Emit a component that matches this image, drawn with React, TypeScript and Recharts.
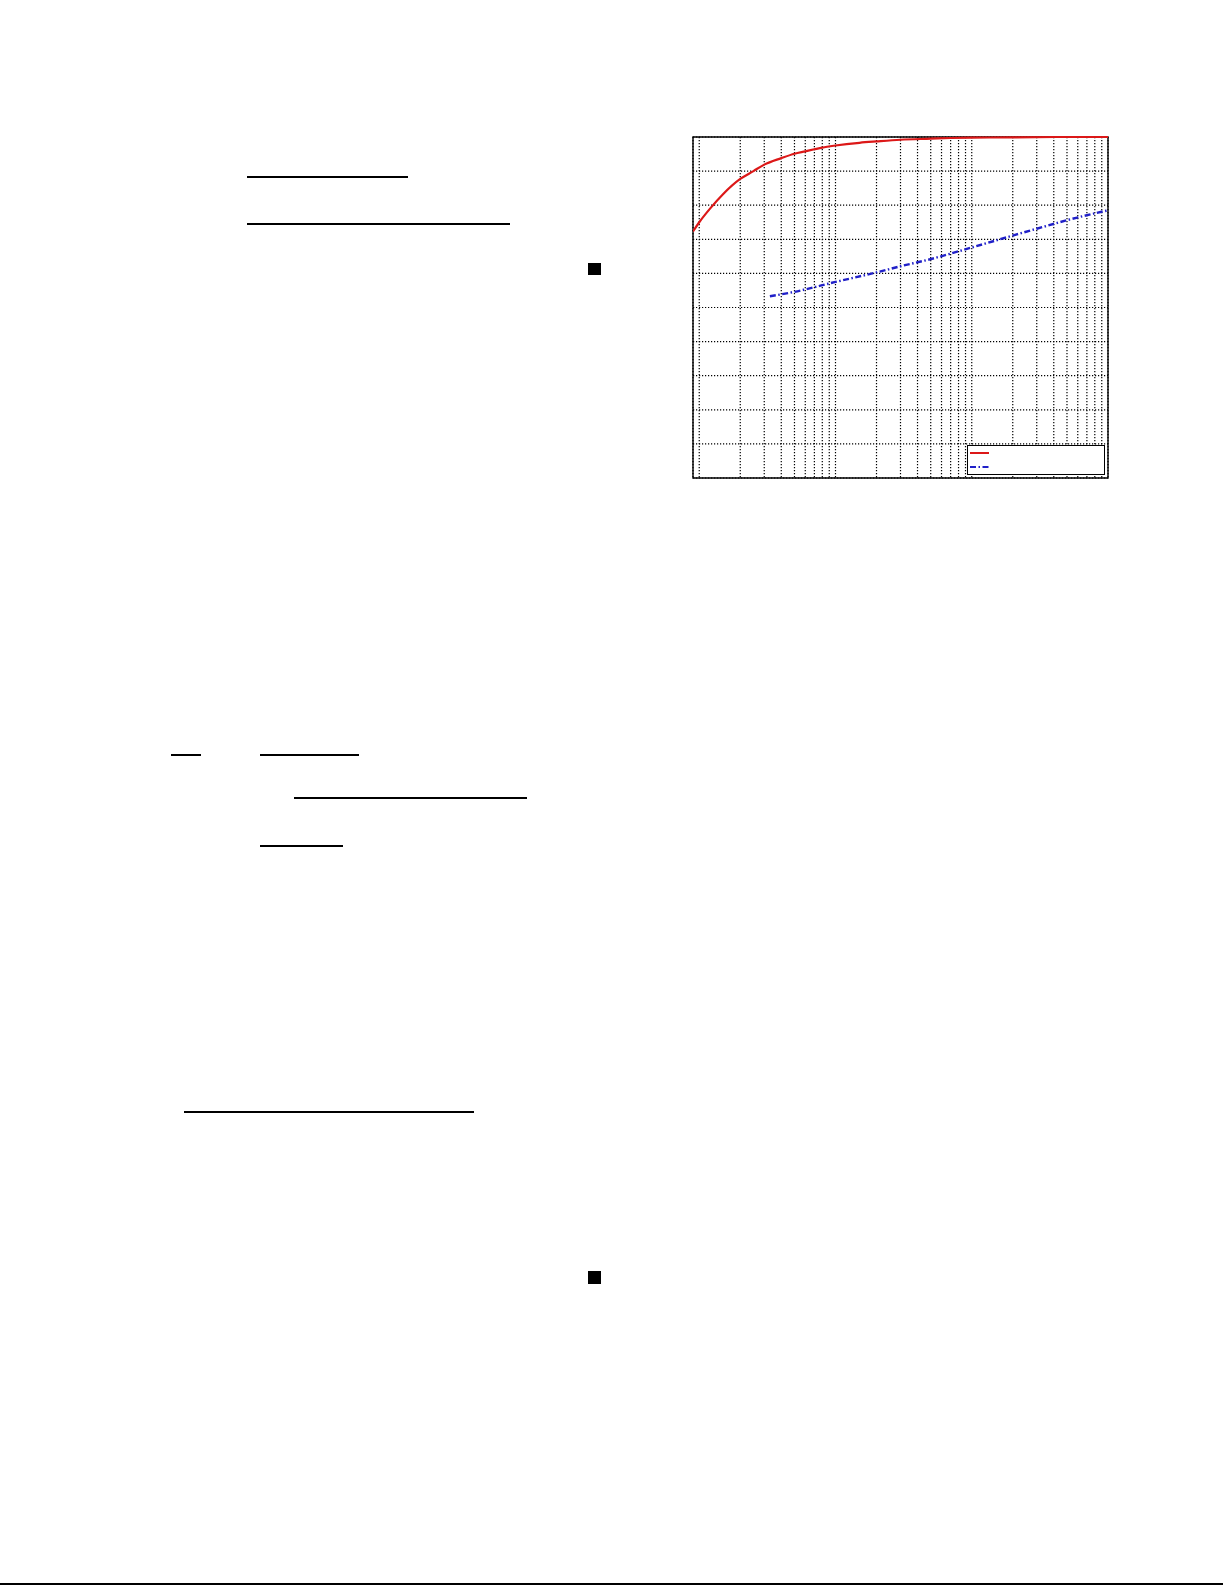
import React from 'react';
import { LineChart, Line, XAxis, YAxis, CartesianGrid, ReferenceArea, Legend } from 'recharts';

// Series 1 (red, solid)
const redX = [0.9, 1, 1.2, 1.5, 2, 2.5, 3, 4, 5, 6, 7, 8, 10, 15, 20, 30, 50, 70, 100, 200, 500, 1000];
const redY = [0.723, 0.75, 0.79, 0.833, 0.877, 0.9, 0.919, 0.938, 0.951, 0.958, 0.964, 0.969, 0.975, 0.983, 0.987, 0.992, 0.995, 0.997, 0.998, 0.999, 1.0, 1.0];

// Series 2 (blue, dash-dot)
const blueX = [3.3, 5, 10, 20, 30, 50, 100, 200, 300, 500, 1000];
const blueY = [0.533, 0.546, 0.575, 0.603, 0.621, 0.642, 0.676, 0.711, 0.731, 0.756, 0.785];

// Axis ticks
const xTicks = [1, 2, 3, 4, 5, 6, 7, 8, 9, 10, 20, 30, 40, 50, 60, 70, 80, 90, 100, 200, 300, 400, 500, 600, 700, 800, 900, 1000];
const yTicks = [0, 0.1, 0.2, 0.3, 0.4, 0.5, 0.6, 0.7, 0.8, 0.9, 1];
const xDomain = [0.9, 1000];
const yDomain = [0, 1];

const redData = redX.map((x, i) => ({ x, y: redY[i] }));
const blueData = blueX.map((x, i) => ({ x, y: blueY[i] }));

const RED = '#dc1818';
const BLUE = '#2020c8';

const LegendBox = (props: any) => {
  const payload = props.payload || [];
  return (
    <div style={{ width: 136, height: 28, border: '1px solid #000', background: '#fff', position: 'relative' }}>
      {payload.map((entry: any, i: number) => (
        <svg key={i} width={20} height={6} style={{ position: 'absolute', left: 2, top: 4 + i * 14 }}>
          <line x1={0} y1={3} x2={19} y2={3} stroke={entry.color}
            strokeWidth={2}
            strokeDasharray={entry.payload?.strokeDasharray} />
        </svg>
      ))}
    </div>
  );
};

const Bar = ({ l, t, w, h = 2 }: { l: number; t: number; w: number; h?: number }) => (
  <div style={{ position: 'absolute', left: l, top: t, width: w, height: h, background: '#000' }} />
);

export default function App() {
  return (
    <div style={{ position: 'absolute', left: 0, top: 0, width: 1225, height: 1585, background: '#fff', overflow: 'hidden' }}>
      <Bar l={247} t={176} w={161} />
      <Bar l={247} t={223} w={263} />
      <Bar l={588} t={263} w={13} h={12} />
      <Bar l={171} t={754} w={30} />
      <Bar l={260} t={754} w={99} />
      <Bar l={294} t={797} w={233} />
      <Bar l={260} t={845} w={83} />
      <Bar l={184} t={1111} w={290} />
      <Bar l={588} t={1271} w={13} h={13} />
      <Bar l={0} t={1583} w={1223} />

      <div style={{ position: 'absolute', left: 691, top: 135 }}>
        <LineChart width={419} height={345} margin={{ top: 2, right: 2, bottom: 2, left: 2 }}>
          <XAxis dataKey="x" type="number" scale="log" domain={xDomain} ticks={xTicks} interval={0} allowDataOverflow hide />
          <YAxis type="number" domain={yDomain} ticks={yTicks} interval={0} hide />
          <CartesianGrid stroke="#000" strokeDasharray="1.2 1.8" strokeWidth={1.2} />
          <Line type="monotone" data={redData} dataKey="y" name="series1" stroke={RED} strokeWidth={2.2} dot={false} isAnimationActive={false} />
          <Line type="monotone" data={blueData} dataKey="y" name="series2" stroke={BLUE} strokeWidth={2.4} strokeDasharray="6 2.5 1.5 2.5" dot={false} isAnimationActive={false} />
          <ReferenceArea x1={0.9} x2={1000} y1={0} y2={1} fill="none" stroke="#000" strokeWidth={1.4} fillOpacity={0} ifOverflow="visible" />
          <Legend layout="horizontal" verticalAlign="middle" align="center" content={<LegendBox />}
            wrapperStyle={{ position: 'absolute', left: 276, top: 310, width: 138, height: 30 }} />
        </LineChart>
      </div>
    </div>
  );
}
